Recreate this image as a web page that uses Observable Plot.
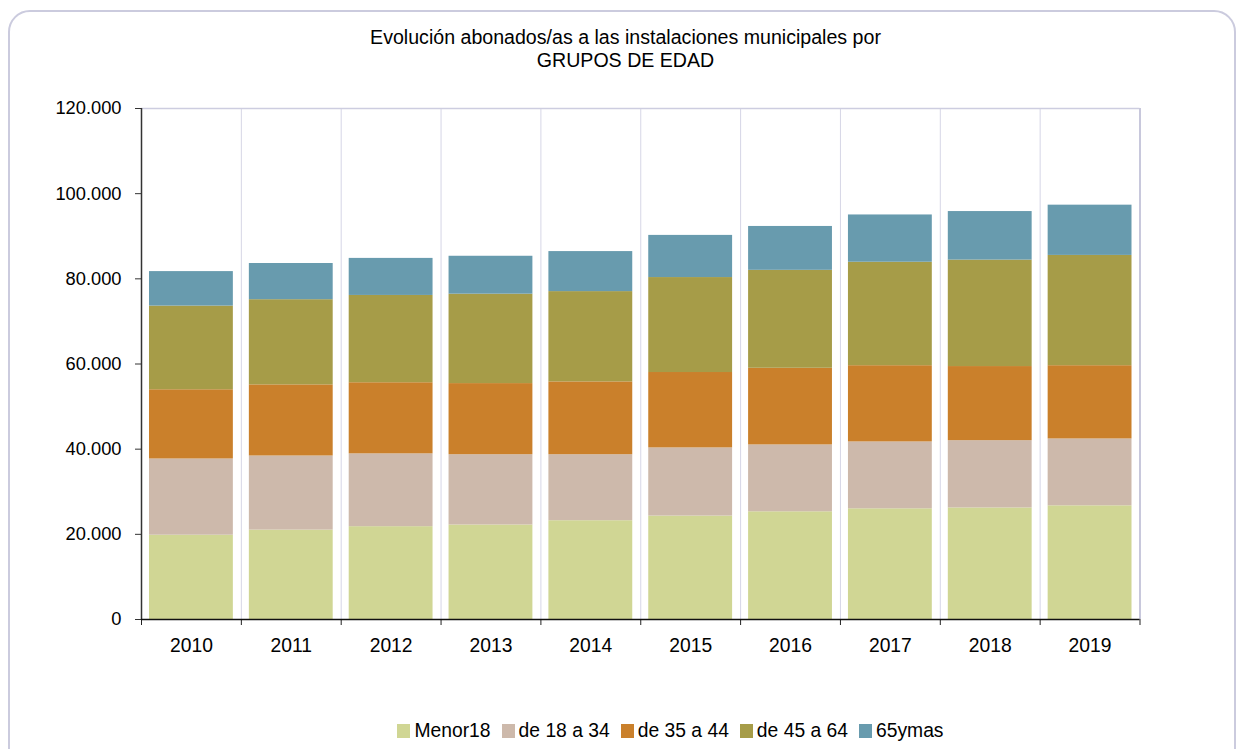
<!DOCTYPE html>
<html>
<head>
<meta charset="utf-8">
<script src="https://cdn.jsdelivr.net/npm/d3@7"></script>
<script src="https://cdn.jsdelivr.net/npm/@observablehq/plot@0.6"></script>
<style>
  body { margin: 0; background: #fff; font-family: "Liberation Sans", Arial, sans-serif; }
  #wrap { position: relative; width: 1237px; height: 749px; overflow: hidden; background: #fff; }
  #border { position: absolute; left: 8px; top: 10px; width: 1228px; height: 780px; border: 2px solid #cbcbde; border-radius: 22px; box-sizing: border-box; }
  #title { position: absolute; left: 0; top: 26px; width: 1251px; text-align: center; font-size: 19.6px; line-height: 23px; color: #000; }
  #chart { position: absolute; left: 0; top: 0; }
  #legend { position: absolute; top: 720px; left: 0; width: 1341px; display: flex; justify-content: center; align-items: center; font-size: 19.3px; color: #000; }
  .item { display: flex; align-items: center; margin: 0 5.5px; }
  .sw { width: 13px; height: 14px; margin-right: 4px; }
</style>
</head>
<body>
<div id="wrap">
  <div id="border"></div>
  <div id="title">Evolución abonados/as a las instalaciones municipales por<br>GRUPOS DE EDAD</div>
  <div id="chart"></div>
  <div id="legend"></div>
</div>
<script>
const years = [2010, 2011, 2012, 2013, 2014, 2015, 2016, 2017, 2018, 2019];
const groups = ["Menor18", "de 18 a 34", "de 35 a 44", "de 45 a 64", "65ymas"];
const colors = ["#d0d694", "#cdb9ab", "#ca802b", "#a69c48", "#689bae"];
const menor18 = [19800, 21000, 21800, 22200, 23200, 24300, 25300, 26000, 26200, 26700];
const de18a34 = [17900, 17400, 17100, 16500, 15500, 16000, 15700, 15700, 15800, 15700];
const de35a44 = [16250, 16700, 16700, 16700, 17100, 17700, 18000, 17900, 17400, 17200];
const de45a64 = [19650, 20000, 20500, 21000, 21200, 22300, 23000, 24300, 25000, 25900];
const mas65   = [8100, 8500, 8700, 8900, 9400, 9900, 10300, 11100, 11400, 11800];
const yTicks = [0, 20000, 40000, 60000, 80000, 100000, 120000];

const series = [menor18, de18a34, de35a44, de45a64, mas65];
const data = [];
years.forEach((yr, i) => {
  groups.forEach((g, j) => data.push({year: yr, group: g, value: series[j][i]}));
});
const bounds = years.map(y => y - 0.5).concat([years[years.length - 1] + 0.5]);
const fmt = d => d3.format(",")(d).replace(/,/g, ".");

const chart = Plot.plot({
  width: 1237,
  height: 680,
  marginLeft: 141,
  marginRight: 97.5,
  marginTop: 108,
  marginBottom: 61,
  style: {fontFamily: "Liberation Sans, Arial, sans-serif", color: "#000", background: "transparent"},
  x: {domain: [bounds[0], bounds[bounds.length - 1]], label: null},
  y: {domain: [0, yTicks[yTicks.length - 1]], label: null},
  color: {domain: groups, range: colors},
  marks: [
    Plot.gridX(bounds, {stroke: "#d6d6e6", strokeOpacity: 1}),
    Plot.ruleY([yTicks[yTicks.length - 1]], {stroke: "#cdcde0", strokeWidth: 1.5}),
    Plot.ruleX([bounds[bounds.length - 1]], {stroke: "#c8c8dc", strokeWidth: 2}),
    Plot.rectY(data, Plot.stackY({
      x1: d => d.year - 0.5,
      x2: d => d.year + 0.5,
      y: "value",
      fill: "group",
      order: groups,
      insetLeft: 8,
      insetRight: 8
    })),
    Plot.axisY({ticks: yTicks, tickSize: 6, tickPadding: 14, tickFormat: fmt, fontSize: 18.3, stroke: "#333", label: null}),
    Plot.axisX({ticks: years, tickSize: 0, tickPadding: 19, tickFormat: d => String(d), fontSize: 19.3, label: null}),
    Plot.axisX({ticks: bounds, tickSize: 6, tickFormat: () => "", stroke: "#222", label: null}),
    Plot.ruleX([bounds[0]], {stroke: "#333", strokeWidth: 1.5}),
    Plot.ruleY([0], {stroke: "#111", strokeWidth: 1.5})
  ]
});
document.getElementById("chart").appendChild(chart);

const legend = document.getElementById("legend");
groups.forEach((g, i) => {
  const it = document.createElement("div");
  it.className = "item";
  const sw = document.createElement("div");
  sw.className = "sw";
  sw.style.background = colors[i];
  const tx = document.createElement("span");
  tx.textContent = g;
  it.appendChild(sw);
  it.appendChild(tx);
  legend.appendChild(it);
});
</script>
</body>
</html>
